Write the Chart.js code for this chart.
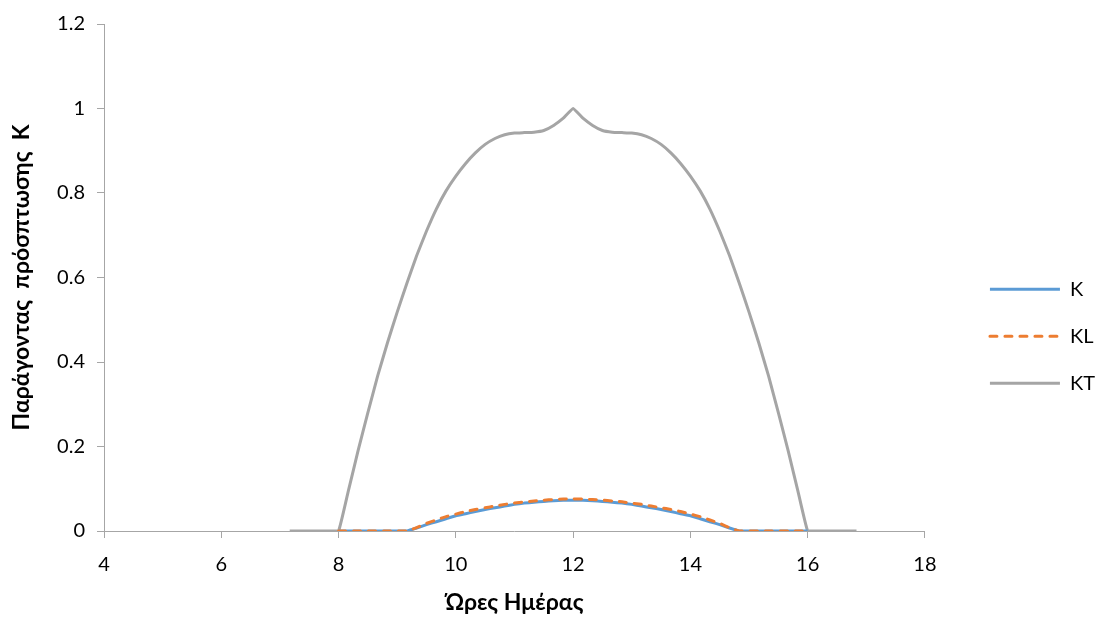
<!DOCTYPE html>
<html>
<head>
<meta charset="utf-8">
<script src="https://cdn.jsdelivr.net/npm/chart.js@4/dist/chart.umd.min.js"></script>
<style>
  html, body { margin: 0; padding: 0; background: #fff; }
  #wrap { width: 1105px; height: 624px; position: relative; }
</style>
</head>
<body>
<div id="wrap"><canvas id="line-chart"></canvas></div>
<script>
// hour of day, every 10 minutes from 7:10 to 16:50
let hours = [7.167, 7.333, 7.5, 7.667, 7.833,
    8, 8.167, 8.333, 8.5, 8.667, 8.833, 9, 9.167, 9.333, 9.5, 9.667, 9.833,
    10, 10.167, 10.333, 10.5, 10.667, 10.833, 11, 11.167, 11.333, 11.5, 11.667, 11.833,
    12, 12.167, 12.333, 12.5, 12.667, 12.833, 13, 13.167, 13.333, 13.5, 13.667, 13.833,
    14, 14.167, 14.333, 14.5, 14.667, 14.833, 15, 15.167, 15.333, 15.5, 15.667, 15.833,
    16, 16.167, 16.333, 16.5, 16.667, 16.833];

let kValues = [null, null, null, null, null,
    0, 0, 0, 0, 0, 0, 0, 0, 0.007, 0.015, 0.022, 0.029,
    0.036, 0.041, 0.046, 0.051, 0.055, 0.059, 0.063, 0.066, 0.068, 0.070, 0.0715, 0.0725,
    0.073, 0.0725, 0.0715, 0.070, 0.068, 0.066, 0.063, 0.059, 0.055, 0.051, 0.046, 0.041,
    0.036, 0.029, 0.022, 0.015, 0.007, 0, 0, 0, 0, 0, 0, 0,
    0, null, null, null, null, null];

let klValues = [null, null, null, null, null,
    0, 0, 0, 0, 0, 0, 0, 0, 0.008, 0.018, 0.026, 0.034,
    0.040, 0.046, 0.051, 0.055, 0.059, 0.063, 0.066, 0.069, 0.071, 0.073, 0.0745, 0.0755,
    0.076, 0.0755, 0.0745, 0.073, 0.071, 0.069, 0.066, 0.063, 0.059, 0.055, 0.051, 0.046,
    0.040, 0.034, 0.026, 0.018, 0.008, 0, 0, 0, 0, 0, 0, 0,
    0, null, null, null, null, null];

let ktValues = [0, 0, 0, 0, 0,
    0, 0.095, 0.19, 0.28, 0.367, 0.445, 0.518, 0.587, 0.652, 0.71, 0.762, 0.805,
    0.84, 0.87, 0.895, 0.915, 0.929, 0.938, 0.942, 0.943, 0.944, 0.948, 0.96, 0.977,
    1.0, 0.977, 0.96, 0.948, 0.944, 0.943, 0.942, 0.938, 0.929, 0.915, 0.895, 0.87,
    0.84, 0.805, 0.762, 0.71, 0.652, 0.587, 0.518, 0.445, 0.367, 0.28, 0.19, 0.095,
    0, 0, 0, 0, 0, 0];

let seriesNames = ["K", "KL", "KT"];
let xTicks = [4, 6, 8, 10, 12, 14, 16, 18];
let yTicks = [0, 0.2, 0.4, 0.6, 0.8, 1, 1.2];

function toPoints(values) {
    return hours.map((h, i) => ({ x: h, y: values[i] }));
}

function showGraph() {
    let fontFamily = "Lato, 'Open Sans', sans-serif";
    let axisColor = "#a6a6a6";

    let chartdata = {
        datasets: [{
            label: seriesNames[0],
            data: toPoints(kValues),
            borderColor: "#5b9bd5",
            backgroundColor: "#5b9bd5",
            borderWidth: 3,
            order: 2
        }, {
            label: seriesNames[1],
            data: toPoints(klValues),
            borderColor: "#ed7d31",
            backgroundColor: "#ed7d31",
            borderWidth: 3,
            borderDash: [7, 8],
            borderCapStyle: "round",
            order: 1
        }, {
            label: seriesNames[2],
            data: toPoints(ktValues),
            borderColor: "#a5a5a5",
            backgroundColor: "#a5a5a5",
            borderWidth: 3,
            order: 3
        }]
    };

    let graphTarget = document.querySelector("#line-chart");

    new Chart(graphTarget, {
        type: 'line',
        data: chartdata,
        options: {
            responsive: true,
            maintainAspectRatio: false,
            animation: false,
            events: [],
            layout: { padding: { top: 20, right: 0, bottom: 0, left: 0 } },
            elements: {
                point: { radius: 0 },
                line: { fill: false, tension: 0.1, borderJoinStyle: 'round' }
            },
            scales: {
                x: {
                    type: 'linear',
                    min: 4,
                    max: 18,
                    afterBuildTicks: (scale) => { scale.ticks = xTicks.map(v => ({ value: v })); },
                    afterFit: (scale) => { scale.height = 93; },
                    grid: { display: true, drawOnChartArea: false, tickLength: 7, color: axisColor },
                    border: { color: axisColor, width: 1 },
                    ticks: {
                        color: "#000",
                        padding: 15,
                        font: { family: fontFamily, size: 20 },
                        maxRotation: 0,
                        callback: (v) => String(v)
                    },
                    title: {
                        display: true,
                        text: "Ώρες Ημέρας",
                        color: "#000",
                        padding: { top: 0, bottom: 8 },
                        font: { family: fontFamily, size: 23, weight: 'bold' }
                    }
                },
                y: {
                    min: 0,
                    max: 1.2,
                    afterBuildTicks: (scale) => { scale.ticks = yTicks.map(v => ({ value: v })); },
                    afterFit: (scale) => { scale.width = 104; },
                    grid: { display: true, drawOnChartArea: false, tickLength: 7, color: axisColor },
                    border: { color: axisColor, width: 1 },
                    ticks: {
                        color: "#000",
                        padding: 12,
                        font: { family: fontFamily, size: 20 },
                        callback: (v) => String(Number(v.toFixed(1)))
                    },
                    title: {
                        display: true,
                        text: "Παράγοντας  πρόσπτωσης  Κ",
                        color: "#000",
                        padding: { top: 8, bottom: 0 },
                        font: { family: fontFamily, size: 23, weight: 'bold' }
                    }
                },
                // empty strip between the plot and the legend
                gap: {
                    type: 'linear',
                    position: 'right',
                    display: true,
                    min: 0,
                    max: 1,
                    grid: { display: false },
                    border: { display: false },
                    ticks: { display: false },
                    afterFit: (scale) => { scale.width = 38; }
                }
            },
            plugins: {
                legend: {
                    position: 'right',
                    title: { display: true, text: '', padding: { top: 7, bottom: 7 } },
                    labels: {
                        usePointStyle: true,
                        pointStyle: 'line',
                        pointStyleWidth: 70,
                        padding: 27,
                        color: "#000",
                        font: { family: fontFamily, size: 20 },
                        sort: (a, b) => a.datasetIndex - b.datasetIndex,
                        // point-style items lose the dataset dash, so copy it back
                        generateLabels: (chart) => {
                            let items = Chart.defaults.plugins.legend.labels.generateLabels(chart);
                            items.forEach(item => {
                                let ds = chart.data.datasets[item.datasetIndex];
                                item.lineDash = ds.borderDash || [];
                                item.lineCap = ds.borderCapStyle || 'butt';
                                item.lineWidth = ds.borderWidth;
                            });
                            return items;
                        }
                    }
                },
                tooltip: { enabled: false }
            }
        }
    });
}

showGraph();
</script>
</body>
</html>
